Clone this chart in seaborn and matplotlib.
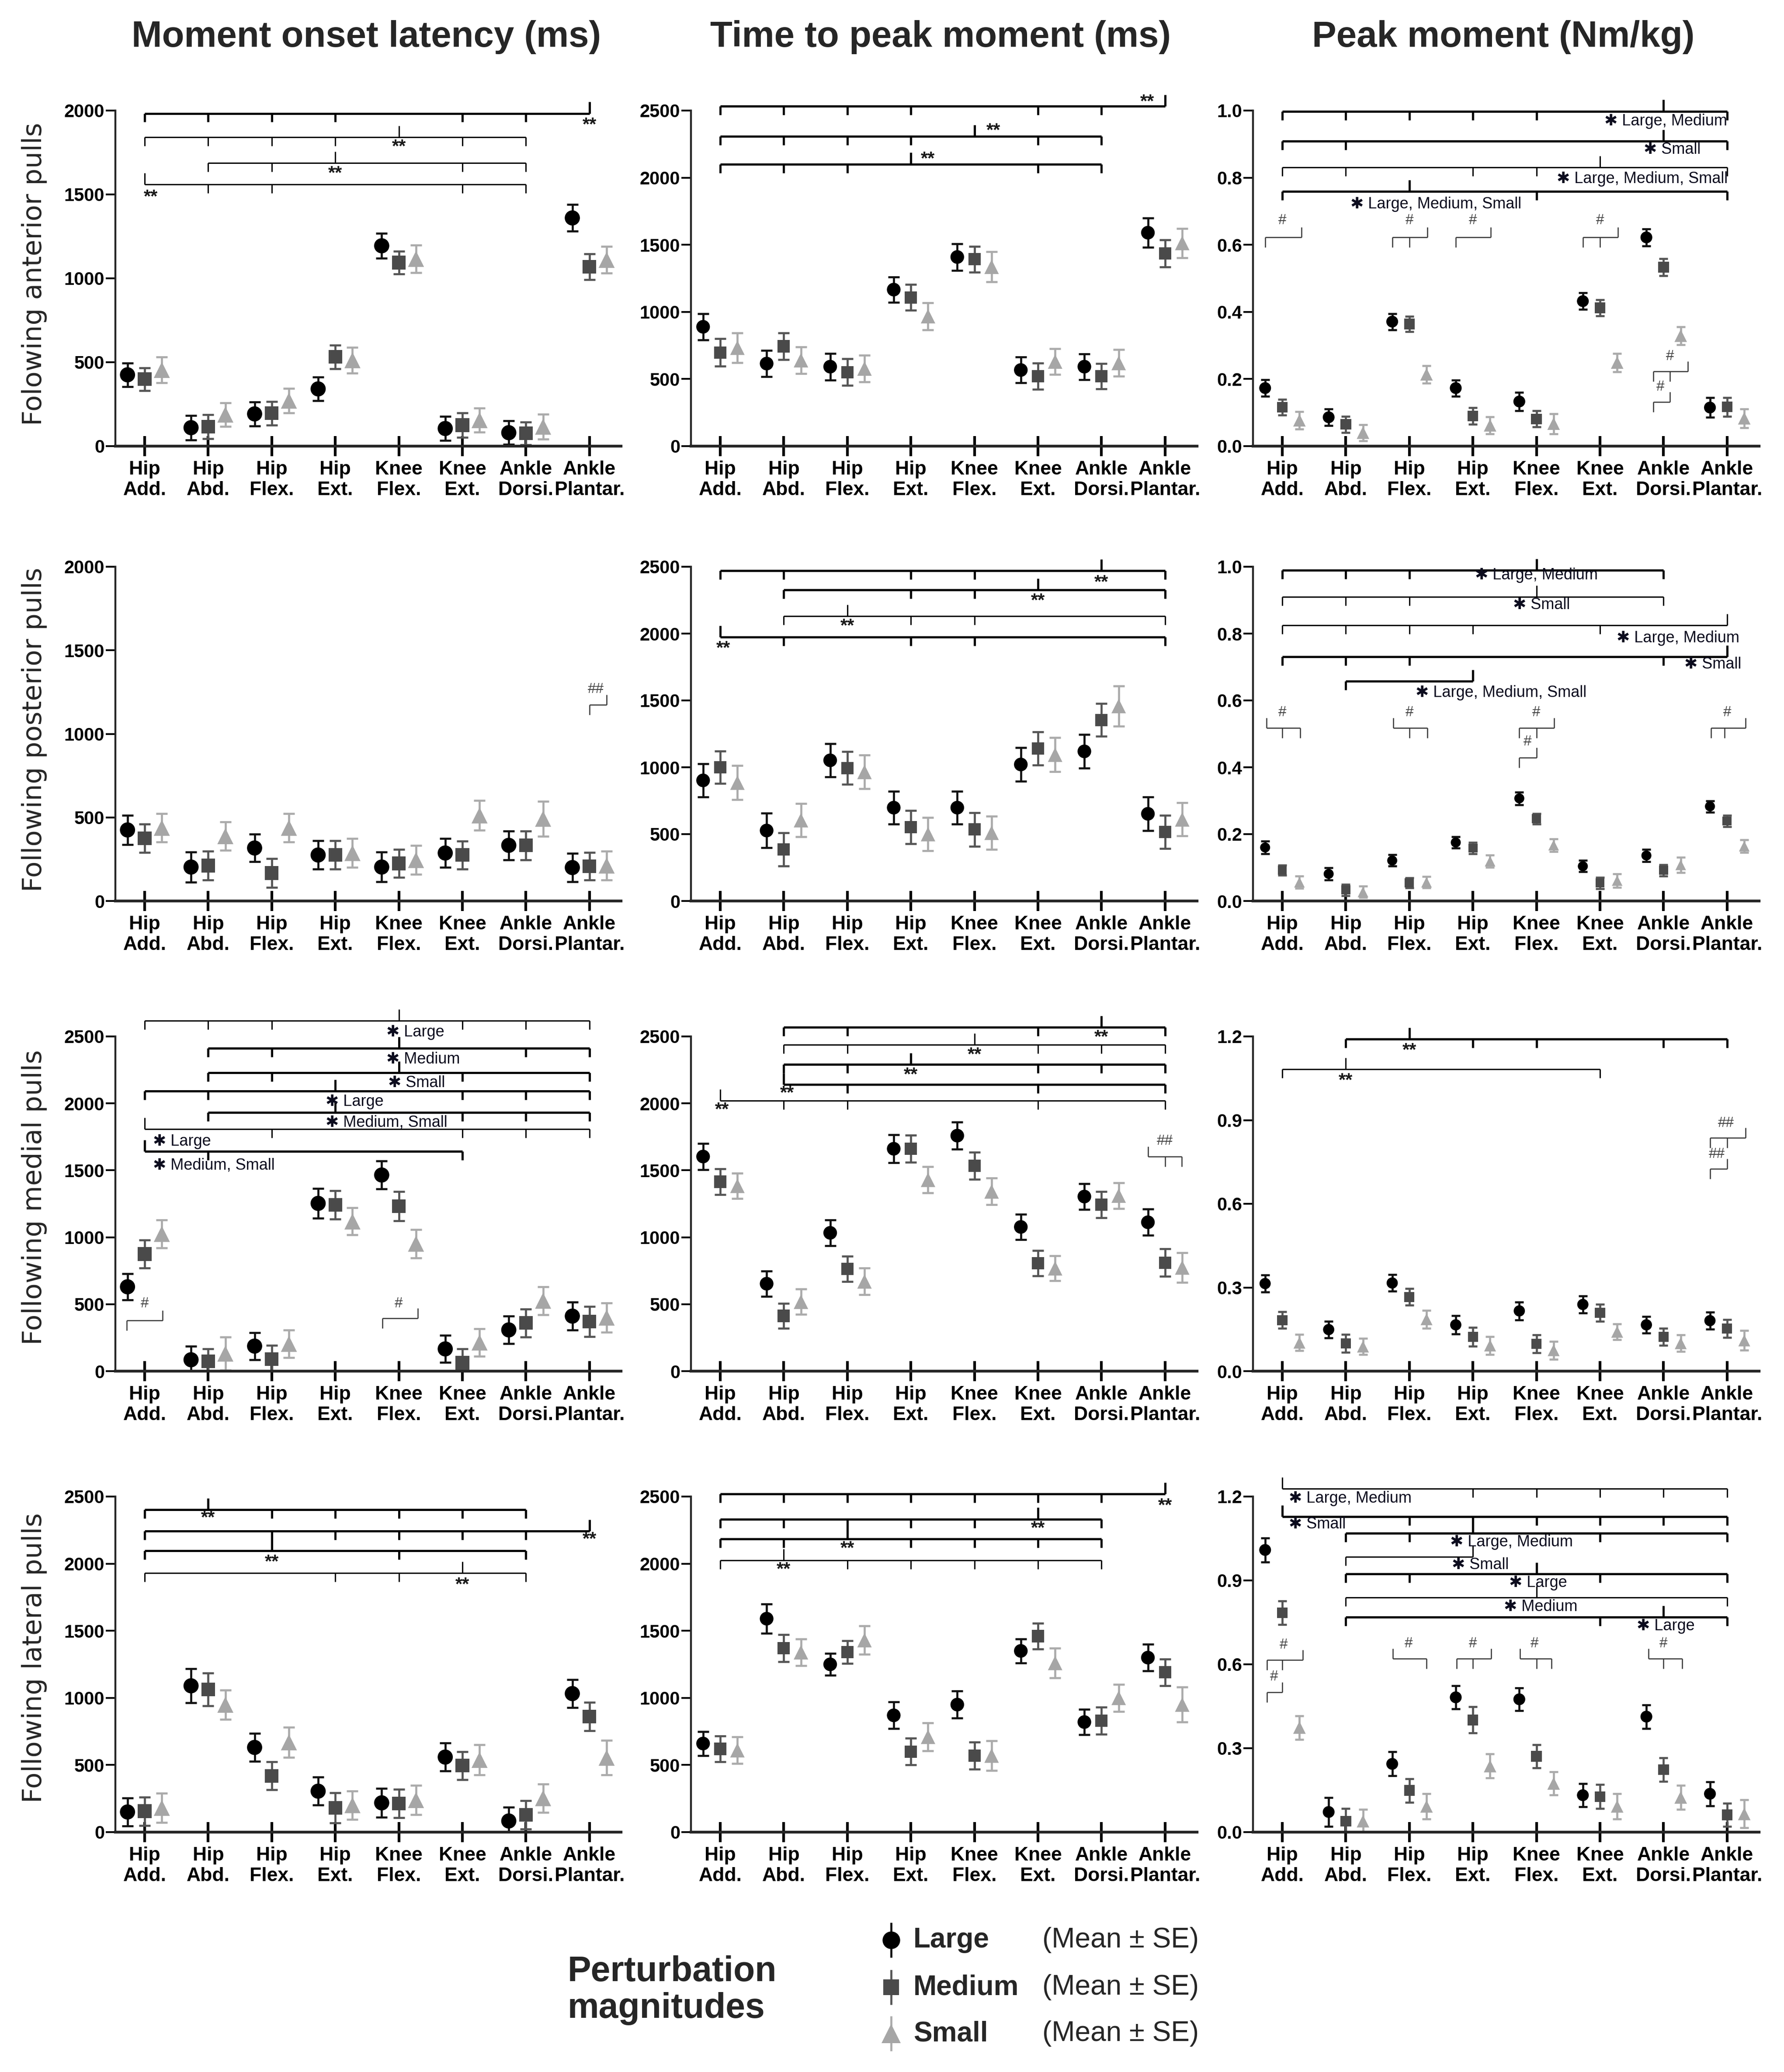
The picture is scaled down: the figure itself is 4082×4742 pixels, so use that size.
import matplotlib
matplotlib.use('Agg')
import matplotlib.pyplot as plt
import matplotlib.ticker as mticker
import pandas as pd
import seaborn as sns

W, H = 4082, 4742

cats = ['Hip\nAdd.', 'Hip\nAbd.', 'Hip\nFlex.', 'Hip\nExt.',
        'Knee\nFlex.', 'Knee\nExt.', 'Ankle\nDorsi.', 'Ankle\nPlantar.']
groups = ['Large', 'Medium', 'Small']

# ---- data (mean, SE) ----
onset_ant = {'Large': [425, 110, 192, 341, 1194, 105, 80, 1360],
             'Medium': [399, 116, 196, 532, 1094, 125, 76, 1069],
             'Small': [454, 188, 271, 512, 1116, 155, 116, 1110]}
onset_ant_se = {'Large': [70, 73, 71, 70, 75, 72, 70, 80],
                'Medium': [68, 72, 70, 70, 68, 73, 68, 77],
                'Small': [77, 71, 73, 77, 82, 71, 75, 80]}

ttp_ant = {'Large': [889, 615, 592, 1166, 1409, 567, 592, 1590],
           'Medium': [698, 744, 551, 1108, 1392, 520, 520, 1436],
           'Small': [733, 640, 578, 968, 1336, 630, 619, 1513]}
ttp_ant_se = {'Large': [98, 97, 99, 95, 99, 96, 96, 109],
              'Medium': [102, 99, 99, 97, 97, 97, 94, 100],
              'Small': [111, 100, 99, 101, 113, 97, 99, 109]}

peak_ant = {'Large': [0.173, 0.086, 0.371, 0.173, 0.133, 0.432, 0.622, 0.115],
            'Medium': [0.116, 0.065, 0.364, 0.090, 0.081, 0.412, 0.533, 0.117],
            'Small': [0.077, 0.040, 0.214, 0.062, 0.067, 0.249, 0.329, 0.083]}
peak_ant_se = {'Large': [0.025, 0.025, 0.024, 0.024, 0.027, 0.025, 0.025, 0.029],
               'Medium': [0.023, 0.024, 0.023, 0.025, 0.024, 0.024, 0.025, 0.028],
               'Small': [0.026, 0.024, 0.026, 0.025, 0.030, 0.027, 0.027, 0.028]}

onset_post = {'Large': [425, 203, 317, 275, 203, 287, 333, 200],
              'Medium': [375, 212, 167, 275, 225, 275, 333, 208],
              'Small': [438, 388, 438, 287, 245, 512, 492, 212]}
onset_post_se = {'Large': [87, 91, 83, 85, 89, 86, 86, 85],
                 'Medium': [86, 86, 86, 85, 83, 83, 86, 83],
                 'Small': [86, 85, 86, 86, 86, 89, 105, 86]}

ttp_post = {'Large': [902, 527, 1052, 698, 698, 1021, 1119, 652],
            'Medium': [1000, 385, 994, 552, 535, 1140, 1354, 515],
            'Small': [885, 604, 965, 500, 510, 1094, 1458, 610]}
ttp_post_se = {'Large': [124, 129, 123, 123, 123, 125, 125, 125],
               'Medium': [122, 125, 123, 125, 125, 125, 123, 124],
               'Small': [128, 125, 125, 125, 125, 128, 151, 124]}

peak_post = {'Large': [0.160, 0.081, 0.121, 0.175, 0.307, 0.104, 0.136, 0.283],
             'Medium': [0.092, 0.033, 0.054, 0.158, 0.246, 0.054, 0.092, 0.239],
             'Small': [0.056, 0.027, 0.056, 0.119, 0.167, 0.061, 0.108, 0.164]}
peak_post_se = {'Large': [0.019, 0.018, 0.017, 0.017, 0.019, 0.017, 0.018, 0.017],
                'Medium': [0.015, 0.017, 0.015, 0.017, 0.016, 0.017, 0.017, 0.017],
                'Small': [0.018, 0.017, 0.017, 0.018, 0.019, 0.020, 0.023, 0.019]}

onset_med = {'Large': [630, 85, 187, 1253, 1465, 166, 308, 411],
             'Medium': [875, 73, 89, 1243, 1232, 62, 360, 370],
             'Small': [1025, 131, 204, 1118, 952, 214, 526, 400]}
onset_med_se = {'Large': [99, 100, 101, 110, 105, 102, 104, 104],
                'Medium': [104, 95, 102, 106, 108, 104, 104, 112],
                'Small': [104, 125, 102, 101, 106, 102, 104, 110]}

ttp_med = {'Large': [1603, 653, 1033, 1661, 1759, 1077, 1304, 1112],
           'Medium': [1415, 413, 764, 1661, 1534, 806, 1244, 810],
           'Small': [1384, 518, 670, 1429, 1342, 768, 1311, 774]}
ttp_med_se = {'Large': [98, 96, 97, 105, 100, 94, 97, 98],
              'Medium': [96, 94, 95, 102, 101, 94, 97, 103],
              'Small': [96, 95, 99, 97, 100, 94, 97, 112]}

peak_med = {'Large': [0.314, 0.149, 0.316, 0.166, 0.216, 0.239, 0.166, 0.181],
            'Medium': [0.183, 0.100, 0.266, 0.123, 0.098, 0.209, 0.123, 0.153],
            'Small': [0.102, 0.088, 0.186, 0.092, 0.075, 0.141, 0.100, 0.110]}
peak_med_se = {'Large': [0.030, 0.030, 0.030, 0.033, 0.032, 0.031, 0.030, 0.030],
               'Medium': [0.030, 0.032, 0.030, 0.033, 0.032, 0.031, 0.030, 0.032],
               'Small': [0.029, 0.029, 0.032, 0.032, 0.032, 0.028, 0.030, 0.035]}

onset_lat = {'Large': [150, 1090, 631, 305, 218, 559, 83, 1032],
             'Medium': [156, 1063, 419, 181, 212, 496, 129, 862],
             'Small': [181, 949, 669, 201, 239, 538, 253, 554]}
onset_lat_se = {'Large': [104, 128, 104, 104, 106, 104, 102, 104],
                'Medium': [106, 121, 104, 112, 106, 104, 106, 106],
                'Small': [109, 109, 111, 106, 108, 112, 106, 128]}

ttp_lat = {'Large': [660, 1590, 1250, 870, 950, 1350, 820, 1300],
           'Medium': [620, 1370, 1340, 600, 570, 1460, 830, 1190],
           'Small': [610, 1340, 1430, 710, 570, 1260, 1000, 950]}
ttp_lat_se = {'Large': [90, 110, 80, 100, 100, 90, 95, 100],
              'Medium': [95, 100, 85, 100, 100, 95, 100, 100],
              'Small': [100, 100, 105, 105, 110, 110, 100, 130]}

peak_lat = {'Large': [1.009, 0.072, 0.244, 0.482, 0.475, 0.132, 0.413, 0.137],
            'Medium': [0.784, 0.039, 0.149, 0.401, 0.271, 0.127, 0.223, 0.062],
            'Small': [0.374, 0.039, 0.092, 0.236, 0.174, 0.092, 0.124, 0.065]}
peak_lat_se = {'Large': [0.043, 0.052, 0.043, 0.041, 0.040, 0.042, 0.042, 0.043],
               'Medium': [0.042, 0.045, 0.042, 0.047, 0.041, 0.043, 0.042, 0.041],
               'Small': [0.042, 0.043, 0.045, 0.043, 0.041, 0.045, 0.043, 0.050]}

titles = ['Moment onset latency (ms)', 'Time to peak moment (ms)', 'Peak moment (Nm/kg)']
row_labels = ['Folowing anterior pulls', 'Following posterior pulls',
              'Following medial pulls', 'Following lateral pulls']

# significance brackets: (y, x0, x1, down ticks, up ticks, linewidth, label, label x, label y)
ann = {
    (0, 0): [(1983, 0, 7, [0, 1, 2, 3, 5, 6], [7], 3.6, '**', 7.0, 1915),
             (1842, 0, 6, [0, 1, 2, 3, 5, 6], [4], 2.2, '**', 4.0, 1784),
             (1687, 1, 6, [1, 2, 5, 6], [3], 2.2, '**', 3.0, 1626),
             (1559, 0, 6, [1, 2, 5, 6], [0], 2.2, '**', 0.1, 1485)],
    (0, 1): [(2531, 0, 7, [0, 1, 2, 3, 5, 6], [7], 3.6, '**', 6.72, 2565),
             (2309, 0, 6, [0, 1, 2, 3, 5, 6], [4], 3.6, '**', 4.3, 2350),
             (2101, 0, 6, [0, 1, 2, 5, 6], [3], 3.6, '**', 3.27, 2140)],
    (0, 2): [(0.998, 0, 7, [0, 1, 2, 3, 4, 7], [6], 3.6, 'Large, Medium', 5.14, 0.968),
             (0.909, 0, 7, [0, 1, 7], [6], 3.6, 'Small', 5.76, 0.884),
             (0.831, 0, 7, [0, 1, 3, 4, 7], [5], 2.2, 'Large, Medium, Small', 4.39, 0.796),
             (0.759, 0, 7, [0, 4, 7], [2], 3.6, 'Large, Medium, Small', 1.14, 0.721),
             (0.622, -0.27, 0.3, [-0.27], [0.3], 1.8, '#', 0.0, 0.672),
             (0.622, 1.73, 2.28, [1.73, 2.0], [2.28], 1.8, '#', 2.0, 0.672),
             (0.622, 2.73, 3.28, [2.73], [3.28], 1.8, '#', 3.0, 0.672),
             (0.622, 4.73, 5.28, [4.73, 5.0], [5.28], 1.8, '#', 5.0, 0.672),
             (0.223, 5.84, 6.38, [5.84, 6.1], [6.38], 1.8, '#', 6.1, 0.268),
             (0.131, 5.84, 6.1, [5.84], [6.1], 1.8, '#', 5.95, 0.177)],
    (1, 0): [(1175, 7.0, 7.27, [7.0], [7.27], 1.8, '##', 7.1, 1267)],
    (1, 1): [(2469, 0, 7, [0, 1, 3, 4, 7], [6], 3.6, '**', 6.0, 2381),
             (2327, 1, 7, [1, 3, 4, 7], [5], 3.6, '**', 5.0, 2244),
             (2131, 1, 7, [1, 3, 4, 7], [2], 2.2, '**', 2.0, 2056),
             (1975, 0, 7, [1, 3, 4, 7], [0], 3.6, '**', 0.05, 1890)],
    (1, 2): [(0.990, 0, 6, [0, 1, 2, 6], [4], 3.6, 'Large, Medium', 3.1, 0.975),
             (0.910, 0, 6, [0, 1, 2, 6], [4], 2.2, 'Small', 3.7, 0.885),
             (0.825, 0, 7, [0, 1, 2, 3, 5], [7], 2.2, 'Large, Medium', 5.33, 0.786),
             (0.731, 0, 7, [0, 1, 2, 6], [7], 3.6, 'Small', 6.4, 0.708),
             (0.658, 1, 3, [1], [3], 3.6, 'Large, Medium, Small', 2.17, 0.623),
             (0.518, -0.25, 0.28, [0.0, 0.28], [-0.25], 1.8, '#', 0.0, 0.564),
             (0.518, 1.75, 2.28, [2.0, 2.28], [1.75], 1.8, '#', 2.0, 0.564),
             (0.518, 3.73, 4.28, [3.73, 4.0], [4.28], 1.8, '#', 4.0, 0.564),
             (0.429, 3.73, 4.0, [3.73], [4.0], 1.8, '#', 3.86, 0.477),
             (0.518, 6.75, 7.29, [6.75, 6.96], [7.29], 1.8, '#', 7.0, 0.564)],
    (2, 0): [(2618, 0, 7, [0, 1, 2, 5, 6, 7], [4], 2.2, 'Large', 3.87, 2531),
             (2413, 1, 7, [1, 2, 6, 7], [4], 3.6, 'Medium', 3.87, 2330),
             (2230, 1, 7, [1, 2, 5, 7], [4], 3.6, 'Small', 3.9, 2151),
             (2091, 0, 7, [0, 1, 5, 6, 7], [3], 3.6, 'Large', 2.92, 2012),
             (1933, 1, 7, [1, 5, 6, 7], [3], 3.6, 'Medium, Small', 2.92, 1856),
             (1808, 0, 7, [2, 5, 6, 7], [0], 2.2, 'Large', 0.2, 1714),
             (1642, 0, 5, [1, 5], [0], 3.6, 'Medium, Small', 0.2, 1538),
             (380, -0.28, 0.28, [-0.28], [0.28], 1.8, '#', 0.0, 505),
             (395, 3.74, 4.3, [3.74], [4.3], 1.8, '#', 4.0, 505)],
    (2, 1): [(2567, 1, 7, [1, 2, 5, 7], [6], 3.6, '**', 6.0, 2494),
             (2437, 1, 7, [1, 2, 5, 6, 7], [4], 2.2, '**', 4.0, 2364),
             (2291, 1, 7, [1, 2, 5, 6, 7], [3], 3.6, '**', 3.0, 2212),
             (2141, 1, 7, [2, 5, 7], [1], 3.6, '**', 1.05, 2076),
             (2020, 0, 7, [1, 2, 5, 7], [0], 2.2, '**', 0.03, 1951),
             (1603, 6.73, 7.26, [7.0, 7.26], [6.73], 1.8, '##', 7.0, 1717)],
    (2, 2): [(1.190, 1, 7, [1, 3, 4, 6, 7], [2], 3.6, '**', 2.0, 1.150),
             (1.083, 0, 5, [0, 5], [1], 2.2, '**', 1.0, 1.042),
             (0.837, 6.73, 7.29, [6.73, 7.0], [7.29], 1.8, '##', 6.98, 0.889),
             (0.725, 6.73, 7.0, [6.73], [7.0], 1.8, '##', 6.84, 0.778)],
    (3, 0): [(2402, 0, 6, [0, 2, 3, 4, 5, 6], [1], 3.6, '**', 1.0, 2340),
             (2243, 0, 7, [0, 2, 3, 4, 5, 6], [7], 3.6, '**', 7.0, 2180),
             (2097, 0, 6, [0, 4, 6], [2], 3.6, '**', 2.0, 2012),
             (1929, 0, 6, [0, 3, 4, 6], [5], 2.2, '**', 5.0, 1842)],
    (3, 1): [(2520, 0, 7, [0, 1, 2, 3, 4, 5, 6], [7], 3.6, '**', 7.0, 2430),
             (2332, 0, 6, [0, 1, 2, 3, 4, 6], [5], 3.6, '**', 5.0, 2262),
             (2184, 0, 6, [0, 1, 3, 4, 5, 6], [2], 3.6, '**', 2.0, 2114),
             (2025, 0, 6, [0, 2, 3, 4, 5, 6], [1], 2.2, '**', 1.0, 1956)],
    (3, 2): [(1.228, 0, 7, [3, 4, 5, 6, 7], [0], 2.2, 'Large, Medium', 0.17, 1.193),
             (1.128, 0, 7, [2, 3, 4, 5, 6, 7], [0], 3.6, 'Small', 0.17, 1.101),
             (1.068, 1, 7, [1, 2, 5, 7], [3], 3.6, 'Large, Medium', 2.71, 1.037),
             (0.984, 1, 3, [1], [3], 2.2, 'Small', 2.74, 0.956),
             (0.924, 1, 7, [1, 2, 5, 7], [4], 3.6, 'Large', 3.64, 0.892),
             (0.839, 1, 7, [1, 7], [4], 2.2, 'Medium', 3.56, 0.806),
             (0.769, 1, 7, [1, 5, 7], [6], 3.6, 'Large', 5.65, 0.737),
             (0.615, -0.24, 0.32, [-0.24, 0.0], [0.32], 1.8, '#', 0.02, 0.670),
             (0.500, -0.24, 0.0, [-0.24], [0.0], 1.8, '#', -0.13, 0.555),
             (0.620, 1.74, 2.27, [2.27], [1.74], 1.8, '#', 1.99, 0.675),
             (0.620, 2.745, 3.29, [2.745, 3.0], [3.29], 1.8, '#', 3.0, 0.675),
             (0.620, 3.74, 4.24, [4.0, 4.24], [3.74], 1.8, '#', 3.97, 0.675),
             (0.620, 5.76, 6.29, [6.0, 6.29], [5.76], 1.8, '#', 6.0, 0.675)],
}

panels = [[(onset_ant, onset_ant_se), (ttp_ant, ttp_ant_se), (peak_ant, peak_ant_se)],
          [(onset_post, onset_post_se), (ttp_post, ttp_post_se), (peak_post, peak_post_se)],
          [(onset_med, onset_med_se), (ttp_med, ttp_med_se), (peak_med, peak_med_se)],
          [(onset_lat, onset_lat_se), (ttp_lat, ttp_lat_se), (peak_lat, peak_lat_se)]]
y_top = [[2000, 2500, 1.0], [2000, 2500, 1.0], [2500, 2500, 1.2], [2500, 2500, 1.2]]
y_step = [[500, 500, 0.2], [500, 500, 0.2], [500, 500, 0.3], [500, 500, 0.3]]
msc = [[1.0, 0.9, 0.78], [1.0, 0.9, 0.66], [1.0, 0.9, 0.74], [1.0, 0.9, 0.78]]

offsets = {'Large': -0.27, 'Medium': 0.0, 'Small': 0.27}
mcolors = {'Large': '#000000', 'Medium': '#4a4a4a', 'Small': '#a6a6a6'}
ecolors = {'Large': '#111111', 'Medium': '#555555', 'Small': '#ababab'}
markers = {'Large': 'o', 'Medium': 's', 'Small': '^'}
base_ms = {'Large': 25, 'Medium': 22.5, 'Small': 26.5}

sns.set_theme(style='ticks')
plt.rcParams['font.family'] = ['Liberation Sans', 'DejaVu Sans']

fig = plt.figure(figsize=(W / 100, H / 100), dpi=100)

X0 = [331, 1648, 2934]
PX = 145.4
YT = [253, 1297, 2372, 3425]
YB = [1021, 2062, 3138, 4193]
XL, XR = -0.46, 7.5


def draw_bracket(ax, top, spec):
    y, x0, x1, downs, ups, lw, label, lx, ly = spec
    is_hash = label.startswith('#')
    col = '#333333' if is_hash else 'black'
    dn = (0.03 if is_hash else 0.026) * top
    up = (0.03 if is_hash else 0.034) * top
    kw = dict(color=col, lw=lw, clip_on=False, solid_capstyle='butt', zorder=4)
    ax.plot([x0, x1], [y, y], **kw)
    for x in downs:
        ax.plot([x, x], [y, y - dn], **kw)
    for x in ups:
        ax.plot([x, x], [y, y + up], **kw)
    if label == '**':
        ax.text(lx, ly, '**', ha='center', va='center', fontsize=30,
                fontweight='bold', color='#1a1a1a', zorder=5)
    elif is_hash:
        ax.text(lx, ly, label, ha='center', va='center', fontsize=24,
                color='#444444', zorder=5)
    else:
        ax.text(lx - 0.07, ly, '\u2731 ' + label, ha='left', va='center', fontsize=26,
                color='#0c0c1e', family=['Liberation Sans', 'DejaVu Sans'], zorder=5)


for r in range(4):
    for c in range(3):
        left = X0[c] + XL * PX
        width = (XR - XL) * PX
        ax = fig.add_axes([left / W, 1 - YB[r] / H, width / W, (YB[r] - YT[r]) / H])
        means, ses = panels[r][c]
        rows = []
        for g in groups:
            for i in range(len(cats)):
                rows.append({'x': i + offsets[g], 'y': means[g][i], 'se': ses[g][i], 'group': g})
        df = pd.DataFrame(rows)

        cap = 9.5 if c < 2 else 7.5
        for g in groups:
            sub = df[df['group'] == g]
            ax.errorbar(sub['x'], sub['y'], yerr=sub['se'], fmt='none', ecolor=ecolors[g],
                        elinewidth=3.4, capsize=cap, capthick=3.4, zorder=2)
        sizes = {g: (base_ms[g] * msc[r][c]) ** 2 for g in groups}
        sns.scatterplot(data=df, x='x', y='y', hue='group', style='group', size='group',
                        palette=mcolors, markers=markers, sizes=sizes, linewidth=0,
                        legend=False, ax=ax, zorder=3)

        top = y_top[r][c]
        ax.set_xlim(XL, XR)
        ax.set_ylim(0, top)
        step = y_step[r][c]
        nt = int(round(top / step))
        ax.set_yticks([k * step for k in range(nt + 1)])
        if c == 2:
            ax.yaxis.set_major_formatter(mticker.FormatStrFormatter('%.1f'))
        ax.set_xticks(range(len(cats)))
        ax.set_xticklabels(cats)
        ax.set_xlabel('')
        ax.set_ylabel('')
        sns.despine(ax=ax)
        ax.spines['left'].set_linewidth(3.2)
        ax.spines['bottom'].set_linewidth(4.6)
        ax.tick_params(axis='y', direction='out', length=16, width=3.0, pad=2,
                       labelsize=30, colors='black')
        ax.tick_params(axis='x', direction='inout', length=33, width=4.5, pad=7,
                       labelsize=32, colors='black')
        for t in ax.get_xticklabels() + ax.get_yticklabels():
            t.set_fontweight('bold')
        ax.patch.set_alpha(0)

        for spec in ann.get((r, c), []):
            draw_bracket(ax, top, spec)

# column titles
for c, (tx, t) in enumerate(zip([838, 2152, 3440], titles)):
    fig.text(tx / W, 1 - 85 / H, t, ha='center', va='center', fontsize=60, fontweight='bold')

# row labels
for r, (ty, t) in enumerate(zip([627, 1670, 2740, 3794], row_labels)):
    fig.text(79 / W, 1 - ty / H, t, ha='center', va='center', rotation=90,
             fontsize=44, family='DejaVu Sans')

# legend
axl = fig.add_axes([0, 0, 1, 1])
axl.set_xlim(0, W)
axl.set_ylim(H, 0)
axl.axis('off')
leg_y = {'Large': 4440, 'Medium': 4548, 'Small': 4654}
leg_ms = {'Large': 29, 'Medium': 26, 'Small': 31}
for g in groups:
    axl.errorbar([2039], [leg_y[g]], yerr=[40], fmt=markers[g], ms=leg_ms[g],
                 color=mcolors[g], ecolor=ecolors[g], mew=0, elinewidth=3.4,
                 capsize=10, capthick=3.4)
    axl.text(2090, leg_y[g], g, ha='left', va='center', fontsize=46, fontweight='bold')
    axl.text(2385, leg_y[g], '(Mean \u00b1 SE)', ha='left', va='center', fontsize=46)
axl.text(1299, 4555, 'Perturbation\nmagnitudes', ha='left', va='center', fontsize=58,
         fontweight='bold', linespacing=1.15)

fig.savefig('out.png', dpi=100)
